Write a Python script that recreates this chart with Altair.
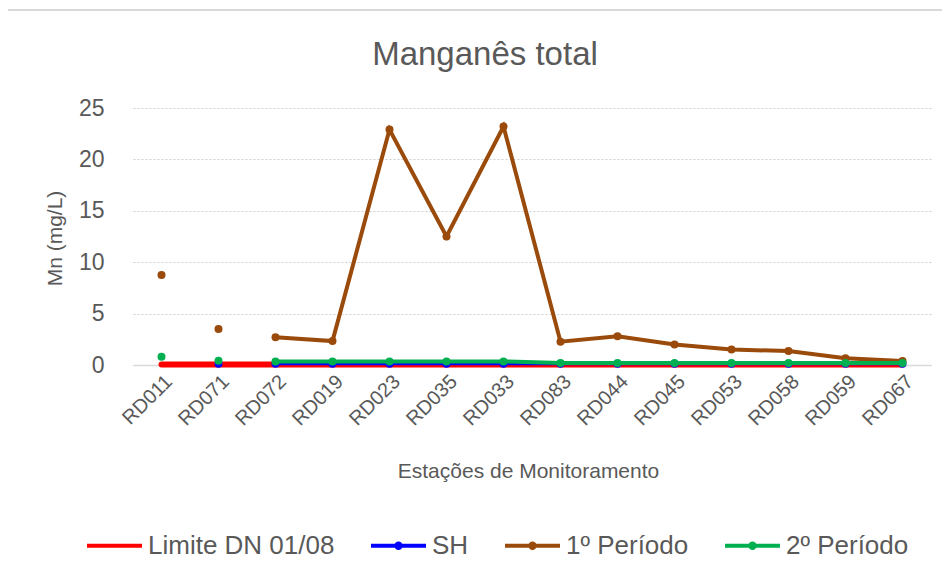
import altair as alt
import pandas as pd

stations = ["RD011", "RD071", "RD072", "RD019", "RD023", "RD035", "RD033",
            "RD083", "RD044", "RD045", "RD053", "RD058", "RD059", "RD067"]

series_names = ["Limite DN 01/08", "SH", "1º Período", "2º Período"]
series_colors = ["#FF0000", "#0000FF", "#9A4A0A", "#00B050"]
series_widths = [6, 3, 4, 4]
series_has_markers = [False, True, True, True]

limite = [0.05, 0.05, 0.05, 0.05, 0.05, 0.05, 0.05, 0.05, 0.05, 0.05, 0.05, 0.05, 0.05, 0.05]
sh = [None, 0.12, 0.12, 0.12, 0.12, 0.12, 0.12, 0.12, 0.12, 0.12, 0.12, 0.12, 0.12, 0.12]
p1 = [8.75, 3.5, 2.7, 2.33, 22.9, 12.5, 23.2, 2.27, 2.8, 2.0, 1.5, 1.36, 0.65, 0.39]
p2 = [0.8, 0.42, 0.35, 0.35, 0.35, 0.35, 0.35, 0.2, 0.2, 0.2, 0.2, 0.2, 0.2, 0.2]

# connected segments (first two stations are isolated points in 3 series)
seg_limite = ["c"] * 14
seg_other = ["a", "b", "c", "c", "c", "c", "c", "c", "c", "c", "c", "c", "c", "c"]

rows = []
for name, vals, segs in [(series_names[0], limite, seg_limite),
                         (series_names[1], sh, seg_other),
                         (series_names[2], p1, seg_other),
                         (series_names[3], p2, seg_other)]:
    for i, (st, v) in enumerate(zip(stations, vals)):
        if v is not None:
            rows.append({"station": st, "value": v, "serie": name, "seg": segs[i], "order": i})
df = pd.DataFrame(rows)
legend_df = pd.DataFrame({"serie": series_names})

FONT = "Liberation Sans"
GRAY = "#595959"

x_enc = alt.X("station:N", sort=stations,
              scale=alt.Scale(type="point", padding=0.5),
              axis=alt.Axis(title="Estações de Monitoramento", labelAngle=-45,
                            labelAlign="right", labelBaseline="top",
                            labelPadding=6, labelFontSize=20, ticks=False,
                            domainColor="#D9D9D9", domainWidth=1.5,
                            titleFontSize=21, titleFontWeight="normal",
                            titleX=395, titleY=112, titleBaseline="alphabetic",
                            titleAnchor="start", titleAlign="center"))
y_enc = alt.Y("value:Q", scale=alt.Scale(domain=[0, 25]),
              axis=alt.Axis(title="Mn (mg/L)", values=[0, 5, 10, 15, 20, 25],
                            labelFontSize=23, labelPadding=29, ticks=False,
                            domain=False, grid=True, gridColor="#CFCFCF",
                            gridDash=[2, 2], gridWidth=1,
                            titleFontSize=21, titleFontWeight="normal",
                            titleX=-68, titleY=130, titleAngle=-90,
                            titleAlign="center", titleBaseline="bottom"))

frame = alt.Chart(alt.Data(values=[{}])).mark_rect(
    fill="transparent", stroke="#D9D9D9", strokeWidth=2
).encode(x=alt.value(-126), x2=alt.value(830), y=alt.value(-98), y2=alt.value(500))

layers = [frame]
for name, color, width, has_markers in zip(series_names, series_colors, series_widths, series_has_markers):
    sub = alt.Chart(df).transform_filter(alt.datum.serie == name)
    layers.append(sub.mark_line(color=color, strokeWidth=width, strokeCap="round").encode(
        x=x_enc, y=y_enc, detail="seg:N", order="order:Q"))
    if has_markers:
        layers.append(sub.mark_circle(color=color, opacity=1, size=64).encode(x=x_enc, y=y_enc))

path_line = "M-1,0L1,0"
path_dot = "M-1,0L1,0M-0.08,0A0.08,0.08,0,1,1,0.08,0A0.08,0.08,0,1,1,-0.08,0"

legend_spec = alt.Legend(title=None, orient="none", direction="horizontal",
                         legendX=-48, legendY=408,
                         labelFontSize=26, labelColor=GRAY, labelFont=FONT, labelLimit=400,
                         symbolSize=3025, symbolStrokeWidth=4, symbolOpacity=1,
                         labelOffset=4, columnPadding=28)

# legend-only layer, drawn far outside the visible area
legend_layer = alt.Chart(legend_df).mark_point(filled=False, strokeWidth=4, size=4).encode(
    x=alt.value(-3000), y=alt.value(100),
    color=alt.Color("serie:N", scale=alt.Scale(domain=series_names, range=series_colors),
                    sort=series_names, legend=legend_spec),
    shape=alt.Shape("serie:N", scale=alt.Scale(domain=series_names,
                                                range=[path_line, path_dot, path_dot, path_dot]),
                    sort=series_names, legend=legend_spec),
)
layers.append(legend_layer)

chart = alt.layer(*layers).properties(
    width=798, height=257,
    title=alt.Title("Manganês total", fontSize=33, font=FONT, color=GRAY, fontWeight="normal",
                    anchor="middle", frame="group", dx=-47, offset=-89, baseline="alphabetic"),
    padding={"left": 125, "top": 100, "right": 11, "bottom": 206},
    autosize=alt.AutoSizeParams(type="none"),
).configure_view(stroke=None).configure_axis(
    labelFont=FONT, titleFont=FONT, labelColor=GRAY, titleColor=GRAY
)

chart.save("out.html", embed_options={"renderer": "svg", "actions": False})
